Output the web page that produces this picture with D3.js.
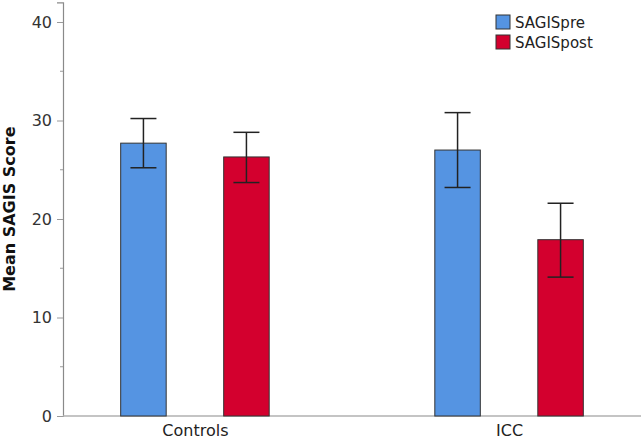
<!DOCTYPE html>
<html>
<head>
<meta charset="utf-8">
<script src="https://cdn.jsdelivr.net/npm/d3@7"></script>
<style>
  body { margin: 0; background: #fff; }
  svg { display: block; font-family: "DejaVu Sans", sans-serif; }
</style>
</head>
<body>
<div id="chart"></div>
<script>
const groups = ['Controls', 'ICC']
const series = ['SAGISpre', 'SAGISpost']
const means = { SAGISpre: [27.7, 27.0], SAGISpost: [26.3, 17.9] }
const errLow = { SAGISpre: [25.2, 23.2], SAGISpost: [23.7, 14.1] }
const errHigh = { SAGISpre: [30.2, 30.8], SAGISpost: [28.8, 21.6] }
const majorTicks = [0, 10, 20, 30, 40]
const minorTicks = [5, 15, 25, 35]
const colors = { SAGISpre: '#5594e2', SAGISpost: '#d3002e' }

const width = 644, height = 441
const svg = d3.select('#chart').append('svg')
  .attr('width', width)
  .attr('height', height)

const y = d3.scaleLinear().domain([0, 42]).range([416, 2.3])
const x = d3.scalePoint().domain(groups).range([63, 641]).padding(0.42)
const xs = d3.scalePoint().domain(series).range([-51.5, 51.5])
const barW = 45.5

// y axis
const yAxis = svg.append('g').attr('transform', 'translate(63,0)')
  .call(d3.axisLeft(y).tickValues(majorTicks).tickSize(6).tickPadding(5).tickFormat(d3.format('d')))
yAxis.select('.domain').attr('stroke', '#8a8a8a').attr('stroke-width', 1.2)
yAxis.selectAll('.tick line').attr('stroke', '#9a9a9a')
yAxis.selectAll('.tick text').attr('font-size', 16).attr('fill', '#333')
  .attr('font-family', '"DejaVu Sans", sans-serif')
svg.append('g').attr('transform', 'translate(63,0)')
  .selectAll('line').data(minorTicks).enter().append('line')
  .attr('x1', -3).attr('x2', 0)
  .attr('y1', d => y(d)).attr('y2', d => y(d))
  .attr('stroke', '#9a9a9a')

// x axis
const xAxis = svg.append('g').attr('transform', 'translate(0,' + y(0) + ')')
  .call(d3.axisBottom(x).tickSize(0).tickPadding(9))
xAxis.select('.domain').attr('stroke', '#b0b0b0').attr('stroke-width', 1.5)
  .attr('d', 'M63,0H641')
xAxis.selectAll('.tick text').attr('font-size', 16).attr('fill', '#222')
  .attr('font-family', '"DejaVu Sans", sans-serif')

// bars
const rows = []
groups.forEach((g, i) => {
  series.forEach(s => {
    rows.push({ group: g, series: s, mean: means[s][i], lo: errLow[s][i], hi: errHigh[s][i] })
  })
})

svg.selectAll('rect.bar')
  .data(rows)
  .enter()
  .append('rect')
  .attr('class', 'bar')
  .attr('x', d => x(d.group) + xs(d.series) - barW / 2)
  .attr('y', d => y(d.mean))
  .attr('width', barW)
  .attr('height', d => y(0) - y(d.mean))
  .attr('fill', d => colors[d.series])
  .attr('stroke', '#333')
  .attr('stroke-width', 1)

// error bars
const err = svg.selectAll('g.err').data(rows).enter().append('g').attr('class', 'err')
  .attr('stroke', '#222').attr('stroke-width', 1.5)
err.append('line')
  .attr('x1', d => x(d.group) + xs(d.series)).attr('x2', d => x(d.group) + xs(d.series))
  .attr('y1', d => y(d.lo)).attr('y2', d => y(d.hi))
err.append('line')
  .attr('x1', d => x(d.group) + xs(d.series) - 13).attr('x2', d => x(d.group) + xs(d.series) + 13)
  .attr('y1', d => y(d.hi)).attr('y2', d => y(d.hi))
err.append('line')
  .attr('x1', d => x(d.group) + xs(d.series) - 13).attr('x2', d => x(d.group) + xs(d.series) + 13)
  .attr('y1', d => y(d.lo)).attr('y2', d => y(d.lo))

// y label
svg.append('text')
  .attr('transform', 'translate(15,' + y(21) + ') rotate(-90)')
  .attr('text-anchor', 'middle')
  .attr('font-size', 16)
  .attr('font-weight', 'bold')
  .attr('fill', '#111')
  .text('Mean SAGIS Score')

// legend
const legend = svg.selectAll('g.legend').data(series).enter().append('g')
  .attr('class', 'legend')
  .attr('transform', (d, i) => 'translate(496,' + (15 + i * 20) + ')')
legend.append('rect')
  .attr('width', 14).attr('height', 14)
  .attr('fill', d => colors[d])
  .attr('stroke', '#333').attr('stroke-width', 1)
legend.append('text')
  .attr('x', 19).attr('y', 13)
  .attr('font-size', 15)
  .attr('fill', '#222')
  .text(d => d)
</script>
</body>
</html>
